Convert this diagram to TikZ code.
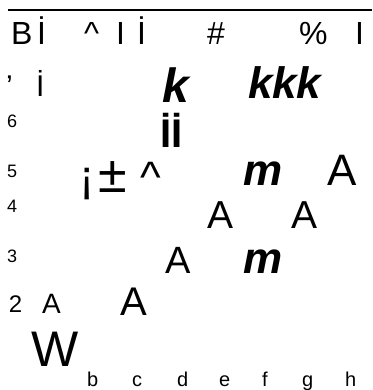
\documentclass[tikz,border=0pt]{standalone}
\usepackage{fontspec}
\setmainfont{Liberation Sans}
\newcommand{\fs}[1]{\fontsize{#1}{#1}\selectfont}
\begin{document}
\begin{tikzpicture}[x=1pt,y=-1pt,
  g/.style={anchor=base west,inner sep=0pt,outer sep=0pt},
  big/.style={g,font=\fs{32}},
  num/.style={g,font=\fs{18}},
  file/.style={g,font=\fs{20}}]
\useasboundingbox (0,0) rectangle (372,390);
\coordinate (l1) at (8,10);
\coordinate (l2) at (372,10);
\draw[line width=1.2pt] (l1) -- (l2);
% top row
\node[big] (t1) at (11,45) {B};
\node[big] (t2) at (37,45) {İ};
\node[big] (t3) at (84,45) {\^{}};
\node[big] (t4) at (116,45) {I};
\node[big] (t5) at (137,45) {İ};
\node[big] (t6) at (207,45) {\#};
\node[big] (t7) at (299,45) {\%};
\node[big] (t8) at (355,45) {I};
% row 2
\node[g,font=\fs{30}] (r1) at (6,97) {'};
\node[g,font=\fs{30}] (r2) at (36,97) {İ};
\node[g,font=\fs{48}\bfseries\itshape] (k1) at (162,103) {k};
\node[g,font=\fs{44}\bfseries\itshape] (k2) at (248,99) {kkk};
% row 6
\node[num] (n6) at (7,128) {6};
\node[g,font=\fs{40}\bfseries] (ii) at (160,147) {İİ};
% row 5
\node[num] (n5) at (7,177) {5};
\node[g,font=\fs{46}] (p51) at (79,192) {¡};
\node[g,font=\fs{52}] (p52) at (98,192) {±};
\node[g,font=\fs{44}] (p53) at (140,192) {\^{}};
\node[g,font=\fs{44}\bfseries\itshape] (m1) at (243,185) {m};
\node[g,font=\fs{44}] (a5) at (327,185) {A};
% row 4
\node[num] (n4) at (7,212) {4};
\node[g,font=\fs{39}] (a41) at (207,228) {A};
\node[g,font=\fs{39}] (a42) at (291,228) {A};
% row 3
\node[num] (n3) at (7,262) {3};
\node[g,font=\fs{38}] (a3) at (165,273) {A};
\node[g,font=\fs{44}\bfseries\itshape] (m2) at (243,273) {m};
% row 2
\node[g,font=\fs{24}] (n2) at (9,312) {2};
\node[g,font=\fs{28}] (a21) at (42,313) {A};
\node[g,font=\fs{40}] (a22) at (120,315) {A};
% W
\node[g,font=\fs{50}] (w) at (31,366) {W};
% files
\foreach \c/\x in {b/87,c/132,d/177,e/219,f/262,g/302,h/345}
  \node[file] (f\c) at (\x,386) {\c};
\end{tikzpicture}
\end{document}
